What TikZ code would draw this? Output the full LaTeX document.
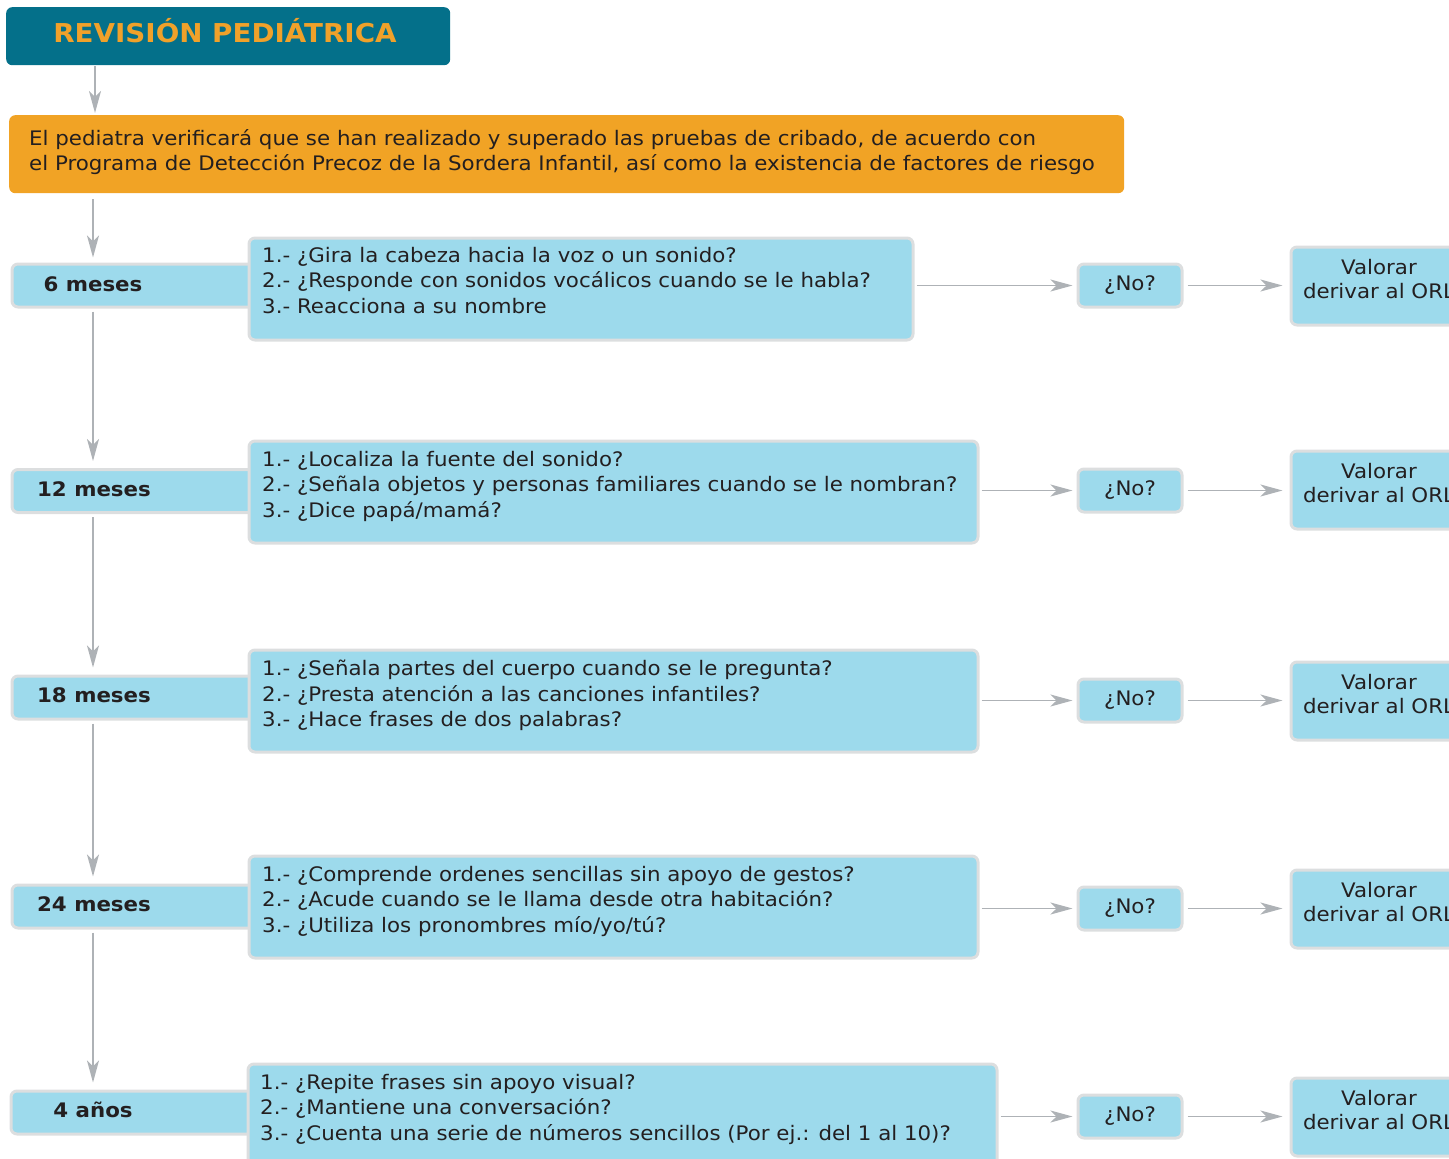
\documentclass[tikz,border=0pt]{standalone}
\usepackage{fontspec}
\setmainfont[FakeStretch=1.067]{DejaVu Sans}
\usetikzlibrary{arrows.meta,calc}
\definecolor{hdrblue}{HTML}{04708A}
\definecolor{hdrorange}{HTML}{F0A12A}
\definecolor{boxorange}{HTML}{F1A325}
\definecolor{lblue}{HTML}{9DDAEC}
\definecolor{bordergray}{HTML}{DCDEDF}
\definecolor{arrgray}{HTML}{AEB2B6}
\definecolor{txtdark}{HTML}{231F20}
\begin{document}
\begin{tikzpicture}[x=1pt,y=-1pt,
  every node/.style={text=txtdark, font=\fontsize{20}{25.5}\selectfont},
  box/.style={draw=bordergray, line width=3pt, fill=lblue, rounded corners=6pt, inner sep=0pt},
  agebox/.style={box, minimum width=250pt, minimum height=43pt, anchor=west},
  agetext/.style={font=\fontsize{20}{25}\selectfont\bfseries, inner sep=0pt},
  qbox/.style={box, anchor=north west},
  qtext/.style={anchor=north west, align=left, inner sep=0pt},
  nobox/.style={box, minimum width=104pt, minimum height=43pt},
  valbox/.style={box, minimum width=180pt, minimum height=78pt, anchor=west},
  valtext/.style={align=center, inner sep=0pt, font=\fontsize{20}{24}\selectfont},
  arr/.style={draw=arrgray, line width=1.6pt, -{Stealth[length=22pt, width=12pt, inset=6pt]}}
]
\useasboundingbox (0,0) rectangle (1449,1159);
\clip (0,0) rectangle (1449,1159);

% title
\node[fill=hdrblue, rounded corners=6pt, minimum width=444pt, minimum height=58pt, anchor=north west, inner sep=0pt] (title) at (6,7) {};
\node[text=hdrorange, font=\fontsize{26}{30}\selectfont\bfseries, inner sep=0pt] (titlet) at (225,31) {REVISIÓN PEDIÁTRICA};

% orange box
\node[fill=boxorange, rounded corners=6pt, minimum width=1115pt, minimum height=78pt, anchor=north west, inner sep=0pt] (intro) at (9,115) {};
\node[qtext] (introt) at (29,129) {El pediatra verificará que se han realizado y superado las pruebas de cribado, de acuerdo con\\el Programa de Detección Precoz de la Sordera Infantil, así como la existencia de factores de riesgo};

% coordinate for main vertical line
\coordinate (vx) at (93,0);

% row 1
\node[agebox] (a1) at (10.5,285.5) {};
\node[qbox, minimum width=664pt, minimum height=102pt] (q1) at (247.5,236.5) {};
\node[qtext] (q1t) at (262,247) {1.- ¿Gira la cabeza hacia la voz o un sonido?\\2.- ¿Responde con sonidos vocálicos cuando se le habla?\\3.- Reacciona a su nombre};
\node[agetext] (a1t) at (93,284) {6 meses};
\node[nobox] (n1) at (1130,285.5) {¿No?};
\node[valbox] (v1) at (1289.5,286) {};
\node[valtext] (v1t) at (1379,279) {Valorar\\derivar al ORL};

% row 2
\node[agebox] (a2) at (10.5,491) {};
\node[qbox, minimum width=729pt, minimum height=102pt] (q2) at (247.5,439.5) {};
\node[qtext] (q2t) at (262,451) {1.- ¿Localiza la fuente del sonido?\\2.- ¿Señala objetos y personas familiares cuando se le nombran?\\3.- ¿Dice papá/mamá?};
\node[agetext] (a2t) at (94,489) {12 meses};
\node[nobox] (n2) at (1130,490.5) {¿No?};
\node[valbox] (v2) at (1289.5,490) {};
\node[valtext] (v2t) at (1379,483) {Valorar\\derivar al ORL};

% row 3
\node[agebox] (a3) at (10.5,697.5) {};
\node[qbox, minimum width=729pt, minimum height=102pt] (q3) at (247.5,648.5) {};
\node[qtext] (q3t) at (262,660) {1.- ¿Señala partes del cuerpo cuando se le pregunta?\\2.- ¿Presta atención a las canciones infantiles?\\3.- ¿Hace frases de dos palabras?};
\node[agetext] (a3t) at (94,695) {18 meses};
\node[nobox] (n3) at (1130,700.5) {¿No?};
\node[valbox] (v3) at (1289.5,701) {};
\node[valtext] (v3t) at (1379,694) {Valorar\\derivar al ORL};

% row 4
\node[agebox] (a4) at (10.5,906.5) {};
\node[qbox, minimum width=729pt, minimum height=102pt] (q4) at (247.5,854.5) {};
\node[qtext] (q4t) at (262,866) {1.- ¿Comprende ordenes sencillas sin apoyo de gestos?\\2.- ¿Acude cuando se le llama desde otra habitación?\\3.- ¿Utiliza los pronombres mío/yo/tú?};
\node[agetext] (a4t) at (94,904) {24 meses};
\node[nobox] (n4) at (1130,908.5) {¿No?};
\node[valbox] (v4) at (1289.5,909) {};
\node[valtext] (v4t) at (1379,902) {Valorar\\derivar al ORL};

% row 5
\node[agebox] (a5) at (9.5,1112.5) {};
\node[qbox, minimum width=749pt, minimum height=110pt] (q5) at (246.5,1062.5) {};
\node[qtext] (q5t) at (260,1074) {1.- ¿Repite frases sin apoyo visual?\\2.- ¿Mantiene una conversación?\\3.- ¿Cuenta una serie de números sencillos (Por ej.: del 1 al 10)?};
\node[agetext] (a5t) at (93,1110) {4 años};
\node[nobox] (n5) at (1130,1116.5) {¿No?};
\node[valbox] (v5) at (1289.5,1117) {};
\node[valtext] (v5t) at (1379,1110) {Valorar\\derivar al ORL};

% vertical arrows
\draw[arr, shorten <=1pt, shorten >=2pt] (title.south -| 95,0) -- (intro.north -| 95,0);
\draw[arr, shorten <=6pt, shorten >=5pt] (intro.south -| vx) -- (a1.north -| vx);
\draw[arr, shorten <=3pt, shorten >=7pt] (a1.south -| vx) -- (a2.north -| vx);
\draw[arr, shorten <=3pt, shorten >=7pt] (a2.south -| vx) -- (a3.north -| vx);
\draw[arr, shorten <=3pt, shorten >=7pt] (a3.south -| vx) -- (a4.north -| vx);
\draw[arr, shorten <=3pt, shorten >=7pt] (a4.south -| vx) -- (a5.north -| vx);

% horizontal arrows
\foreach \i in {1,...,5}{
  \draw[arr, shorten <=2pt, shorten >=4pt] (q\i.east |- n\i) -- (n\i.west);
  \draw[arr, shorten <=4pt, shorten >=7pt] (n\i.east) -- (v\i.west |- n\i);
}
\end{tikzpicture}
\end{document}
